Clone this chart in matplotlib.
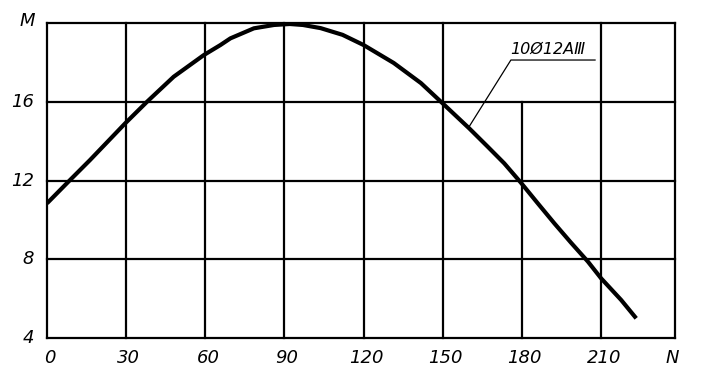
import matplotlib
matplotlib.use("Agg")
import matplotlib.pyplot as plt

# curve: N vs M
n_vals = [0, 8.1, 16.3, 29.6, 37.9, 48, 59.4, 65.7, 69.5, 78.4, 86, 92, 97, 103.7, 112,
          120, 131.4, 141.7, 149.3, 160, 167, 173.3, 179.6, 186, 192.3, 198.6, 205, 210,
          217.6, 223.3]
m_vals = [10.84, 11.94, 13.04, 14.9, 16.0, 17.27, 18.37, 18.88, 19.22, 19.73, 19.9, 19.95,
          19.9, 19.74, 19.4, 18.88, 17.97, 16.95, 16.0, 14.65, 13.72, 12.87, 11.89, 10.84,
          9.82, 8.84, 7.88, 7.03, 5.93, 5.0]

x_ticks = [0, 30, 60, 90, 120, 150, 180, 210]
y_ticks = [4, 8, 12, 16]
X_MAX = 238
Y_MIN, Y_MAX = 4, 20

label = "10Ø12AⅢ"

fig = plt.figure(figsize=(7.08, 3.9), dpi=100)
ax = fig.add_axes([0.0664, 0.1333, 0.887, 0.8077])
ax.set_xlim(0, X_MAX)
ax.set_ylim(Y_MIN, Y_MAX)
ax.axis("off")

grid_kw = dict(color="black", linewidth=1.6, clip_on=False)
# vertical grid; the 180 line stops at 16 in the original
for x in x_ticks[1:] + [X_MAX]:
    top = 16 if x == 180 else Y_MAX
    ax.plot([x, x], [Y_MIN, top], **grid_kw)
ax.plot([0, 0], [Y_MIN, Y_MAX], **grid_kw)
for y in y_ticks + [Y_MAX]:
    ax.plot([0, X_MAX], [y, y], **grid_kw)

ax.plot(n_vals, m_vals, color="black", linewidth=3.0, solid_capstyle="butt",
        solid_joinstyle="round")

font = dict(family="DejaVu Sans", style="italic", size=13, color="black")
for x in x_ticks:
    ax.text(x + 1, Y_MIN - 0.55, str(x), ha="center", va="top", **font)
for y in y_ticks:
    ax.text(-5, y, str(y), ha="right", va="center", **font)
ax.text(-7.5, Y_MAX + 0.1, "M", ha="center", va="center", **font)
ax.text(237, Y_MIN - 0.55, "N", ha="center", va="top", **font)

# leader line to the label
ax.plot([159.9, 175.8, 207.7], [14.72, 18.12, 18.12], color="black", linewidth=0.9)
ax.text(175.5, 18.3, label, ha="left", va="bottom", family="DejaVu Sans",
        style="italic", size=11.5, color="black")

fig.savefig("out.png", dpi=100)
